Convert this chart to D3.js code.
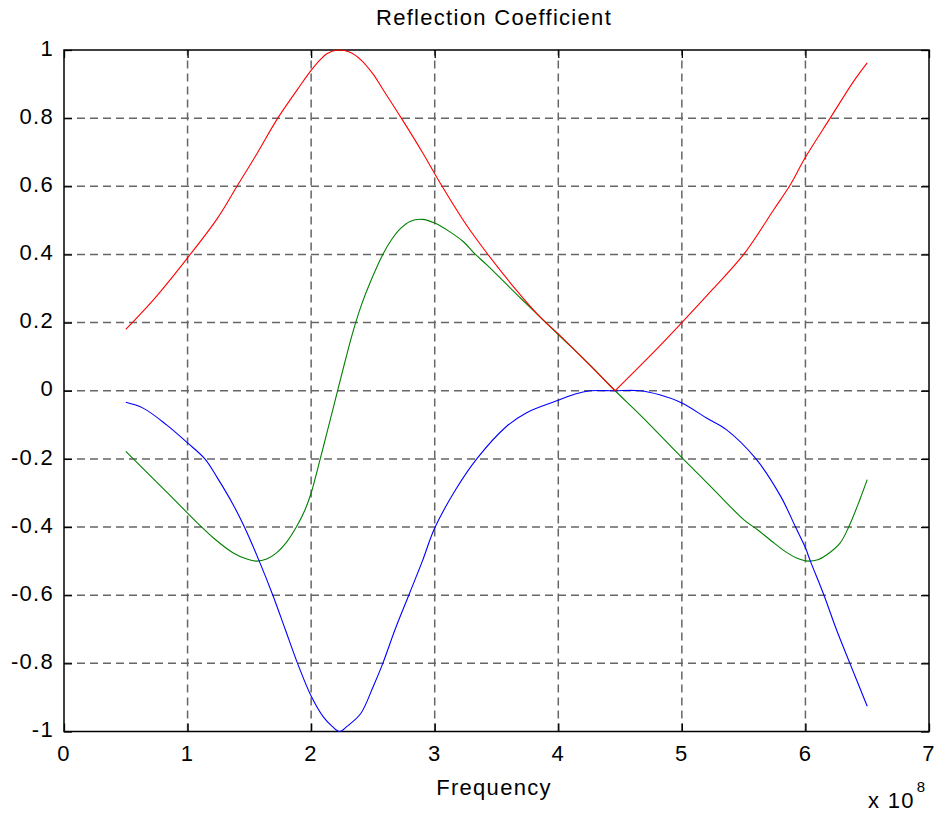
<!DOCTYPE html>
<html>
<head>
<meta charset="utf-8">
<script src="https://cdn.jsdelivr.net/npm/d3@7"></script>
<style>
  html, body { margin: 0; padding: 0; background: #fff; }
  svg { display: block; }
  text { font-family: "Liberation Sans", Arial, Helvetica, sans-serif; fill: #000; }
</style>
</head>
<body>
<svg id="chart" width="937" height="816"></svg>
<script>
// ---- data (frequency in units of 1e8 Hz) ----
const xTicks = [0, 1, 2, 3, 4, 5, 6, 7];
const yTicks = [-1, -0.8, -0.6, -0.4, -0.2, 0, 0.2, 0.4, 0.6, 0.8, 1];
const yTickLabels = ["-1", "-0.8", "-0.6", "-0.4", "-0.2", "0", "0.2", "0.4", "0.6", "0.8", "1"];
const titleText = "Reflection Coefficient";
const xLabelText = "Frequency";

// magnitude (red)
const redF = [0.5, 0.75, 1.0, 1.24, 1.4, 1.56, 1.73, 1.91, 2.0, 2.07, 2.13, 2.22, 2.31, 2.4, 2.5, 2.58, 2.73, 2.9, 3.06, 3.25, 3.42, 3.65, 3.87, 4.0, 4.2, 4.46,
              4.75, 5.0, 5.25, 5.5, 5.75, 5.87, 6.0, 6.2, 6.39, 6.5];
const redV = [0.18, 0.278, 0.39, 0.505, 0.60, 0.695, 0.80, 0.895, 0.94, 0.97, 0.99, 1.0, 0.994, 0.972, 0.93, 0.885, 0.80, 0.70, 0.60, 0.49, 0.405, 0.30, 0.21, 0.167, 0.095, 0.0,
              0.105, 0.20, 0.298, 0.40, 0.535, 0.60, 0.685, 0.80, 0.908, 0.962];

// real part (green)
const greenF = [0.5, 0.75, 1.0, 1.1, 1.21, 1.37, 1.48, 1.56, 1.64, 1.72, 1.8, 1.88, 1.95, 2.0, 2.07, 2.13, 2.2, 2.27, 2.34, 2.41, 2.48, 2.58, 2.65, 2.72, 2.8, 2.9,
                3.0, 3.12, 3.23, 3.33, 3.42, 3.7, 4.0, 4.25, 4.46, 4.66, 5.0, 5.25, 5.5, 5.62, 5.75, 5.85, 5.95, 6.02, 6.1, 6.17, 6.28, 6.35, 6.44, 6.5];
const greenV = [-0.178, -0.268, -0.359, -0.395, -0.432, -0.476, -0.494, -0.50, -0.494, -0.476, -0.445, -0.40, -0.35, -0.30, -0.205, -0.12, -0.02, 0.08, 0.175, 0.255, 0.32, 0.40, 0.443, 0.475, 0.497, 0.503,
                0.492, 0.467, 0.438, 0.40, 0.37, 0.27, 0.165, 0.078, 0.0, -0.07, -0.196, -0.287, -0.378, -0.41, -0.448, -0.475, -0.494, -0.50, -0.496, -0.482, -0.447, -0.40, -0.32, -0.261];

// imaginary part (blue)
const blueF = [0.5, 0.64, 0.83, 1.0, 1.14, 1.24, 1.37, 1.46, 1.58, 1.69, 1.79, 1.89, 2.0, 2.1, 2.17, 2.23, 2.29, 2.4, 2.5, 2.58, 2.68, 2.79, 2.9, 3.0, 3.17, 3.34, 3.58, 3.74,
               4.0, 4.13, 4.26, 4.45, 4.66, 4.82, 5.0, 5.2, 5.36, 5.6, 5.8, 5.92, 6.0, 6.04, 6.15, 6.25, 6.36, 6.5];
const blueV = [-0.034, -0.051, -0.10, -0.153, -0.20, -0.255, -0.335, -0.40, -0.50, -0.60, -0.70, -0.80, -0.896, -0.958, -0.985, -1.0, -0.985, -0.948, -0.87, -0.80, -0.70, -0.60, -0.50, -0.403, -0.29, -0.20, -0.105, -0.065,
               -0.028, -0.01, 0.0, 0.0, 0.0, -0.012, -0.036, -0.08, -0.114, -0.20, -0.31, -0.40, -0.461, -0.50, -0.60, -0.70, -0.80, -0.926];

// ---- layout ----
const L = 64, R = 929, T = 50, B = 731.5;
const svg = d3.select("#chart");
const x = d3.scaleLinear().domain([0, 7]).range([L, R]);
const y = d3.scaleLinear().domain([-1, 1]).range([B, T]);
const FS = 22, LS = "1.3px";

// grid
const grid = svg.append("g").attr("stroke", "#666").attr("stroke-width", 1.5).attr("stroke-dasharray", "8,5");
grid.selectAll("line.v").data(xTicks.filter(d => d > 0 && d < 7)).join("line")
  .attr("x1", d => x(d)).attr("x2", d => x(d)).attr("y1", B).attr("y2", T);
grid.selectAll("line.h").data(yTicks.filter(d => d > -1 && d < 1)).join("line")
  .attr("y1", d => y(d)).attr("y2", d => y(d)).attr("x1", L).attr("x2", R);

// axes with inward ticks on all four sides
const tickLen = 8;
const axB = svg.append("g").attr("transform", `translate(0,${B})`)
  .call(d3.axisBottom(x).tickValues(xTicks).tickSize(-tickLen).tickFormat(""));
const axT = svg.append("g").attr("transform", `translate(0,${T})`)
  .call(d3.axisTop(x).tickValues(xTicks).tickSize(-tickLen).tickFormat(""));
const axL = svg.append("g").attr("transform", `translate(${L},0)`)
  .call(d3.axisLeft(y).tickValues(yTicks).tickSize(-tickLen).tickFormat(""));
const axR = svg.append("g").attr("transform", `translate(${R},0)`)
  .call(d3.axisRight(y).tickValues(yTicks).tickSize(-tickLen).tickFormat(""));
[axB, axT, axL, axR].forEach(a => {
  a.select(".domain").remove();
  a.selectAll("line").attr("stroke", "#000").attr("stroke-width", 1.3);
});
svg.append("rect").attr("x", L).attr("y", T).attr("width", R - L).attr("height", B - T)
  .attr("fill", "none").attr("stroke", "#000").attr("stroke-width", 1.5);

// tick labels
svg.append("g").selectAll("text").data(xTicks).join("text")
  .attr("x", d => x(d)).attr("y", 761).attr("text-anchor", "middle")
  .attr("font-size", FS).style("letter-spacing", LS).text(d => d);
svg.append("g").selectAll("text").data(yTicks).join("text")
  .attr("x", 54).attr("y", d => y(d) + 5.6).attr("text-anchor", "end")
  .attr("font-size", FS).style("letter-spacing", LS).text((d, i) => yTickLabels[i]);

// title & labels
svg.append("text").attr("x", 494).attr("y", 25).attr("text-anchor", "middle")
  .attr("font-size", FS).style("letter-spacing", LS).text(titleText);
svg.append("text").attr("x", 494).attr("y", 795).attr("text-anchor", "middle")
  .attr("font-size", FS).style("letter-spacing", LS).text(xLabelText);
const exp = svg.append("text").attr("x", 868).attr("y", 808).attr("font-size", FS).style("letter-spacing", LS);
exp.append("tspan").text("x 10");
exp.append("tspan").attr("font-size", 15).attr("dy", -16).attr("dx", 2).text("8");

// curves
const pts = (F, V) => F.map((f, i) => [f, V[i]]);
const lineGen = d3.line().x(d => x(d[0])).y(d => y(d[1])).curve(d3.curveCatmullRom.alpha(0.5));
const redPts = pts(redF, redV);
const vIdx = redV.indexOf(0.0);
const plot = svg.append("g").attr("fill", "none").attr("stroke-width", 1.1);
plot.append("path").attr("stroke", "#008000").attr("d", lineGen(pts(greenF, greenV)));
plot.append("path").attr("stroke", "#0000ff").attr("d", lineGen(pts(blueF, blueV)));
plot.append("path").attr("stroke", "#ff0000")
  .attr("d", lineGen(redPts.slice(0, vIdx + 1)) + lineGen(redPts.slice(vIdx)));
</script>
</body>
</html>
